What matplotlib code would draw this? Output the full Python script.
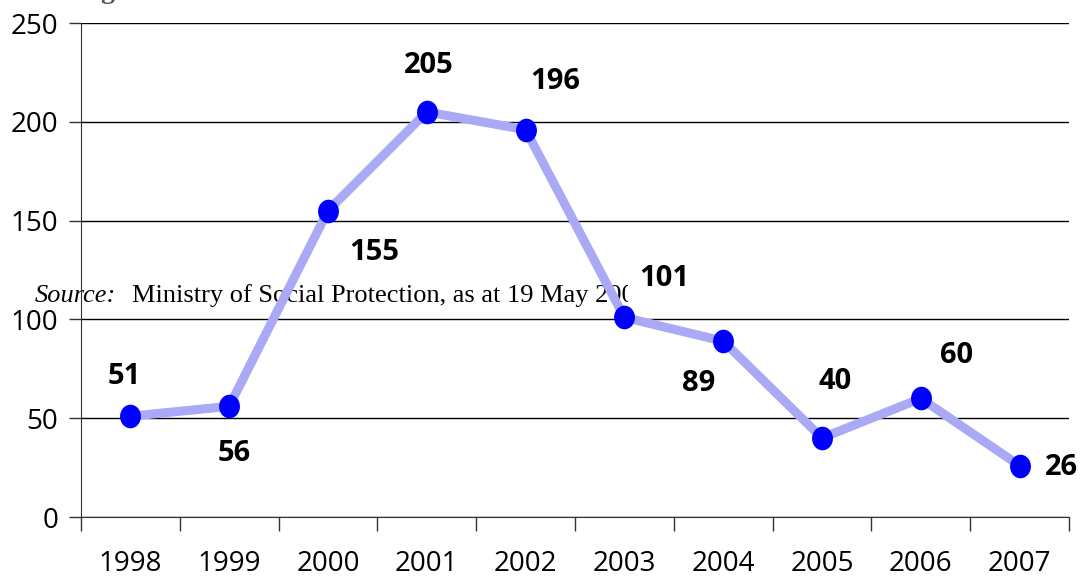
import numpy as np
import matplotlib
matplotlib.use("Agg")
from matplotlib import pyplot as plt
from matplotlib.path import Path
from matplotlib.transforms import Bbox

# data
years = ['1998', '1999', '2000', '2001', '2002', '2003', '2004', '2005', '2006', '2007']
values = [51, 56, 155, 205, 196, 101, 89, 40, 60, 26]
# label offsets in pixels (dx, dy) from each point
label_offsets = [(-6, 40), (5, -47), (46, -42), (2, 46), (30, 48),
                 (40, 39), (-25, -42), (13, 56), (36, 43), (42, -2)]
y_ticks = [0, 50, 100, 150, 200, 250]

# slightly taller-than-wide marker
circ = Path.unit_circle()
ellipse = Path(circ.vertices * np.array([1.0, 1.13]), circ.codes)

fig = plt.figure(figsize=(10.8, 5.78), dpi=100)
ax = fig.add_axes([81 / 1080, 1 - 517 / 578, 988 / 1080, 494 / 578])

x = np.arange(len(years))
ax.plot(x, values, color='#a9a9f6', lw=6.5, solid_joinstyle='round', zorder=3)
ax.plot(x, values, ls='none', marker=ellipse, ms=17, color='#0000ff',
        markeredgewidth=0, zorder=4)

for xi, v, (dx, dy) in zip(x, values, label_offsets):
    ax.annotate(str(v), (xi, v), xytext=(dx, dy), textcoords='offset pixels',
                ha='center', va='center', fontsize=21, fontweight='bold',
                family=['Open Sans', 'DejaVu Sans'], zorder=5)

ax.set_xlim(-0.5, len(years) - 0.5)
ax.set_ylim(0, 250)
ax.set_yticks(y_ticks)
ax.set_xticks(np.arange(len(years) + 1) - 0.5)
ax.set_xticklabels([])
ax.set_xticks(x, minor=True)
ax.set_xticklabels(years, minor=True)
ax.tick_params(axis='x', which='minor', length=0, pad=24)
ax.tick_params(axis='x', which='major', length=10, width=1, color='#333333', direction='out')
ax.tick_params(axis='y', length=9, width=1, color='#333333', pad=7.5)
for lab in ax.get_yticklabels() + ax.get_xticklabels(minor=True):
    lab.set_fontsize(20)
    lab.set_family(['Open Sans', 'DejaVu Sans'])

ax.grid(axis='y', color='black', lw=1)
ax.set_axisbelow(True)
for s in ['top', 'right']:
    ax.spines[s].set_visible(False)
ax.spines['left'].set_color('#333333')
ax.spines['bottom'].set_color('#333333')

# stray source note from the page, cut off on the right; drawn under the line
base_y = 1 - 302 / 578
t1 = ax.text(35 / 1080, base_y, 'Source:', transform=fig.transFigure,
             fontsize=19, fontstyle='italic', family='Liberation Serif',
             va='baseline', zorder=1, clip_on=True)
t2 = ax.text(132 / 1080, base_y, 'Ministry of Social Protection, as at 19 May 2007',
             transform=fig.transFigure, fontsize=19, family='Liberation Serif',
             va='baseline', zorder=1, clip_on=True)
for t in (t1, t2):
    t.set_clip_box(Bbox.from_extents(1, 1, 628, 577))

# cut-off title remnant at the very top
fig.text(100 / 1080, 1 + 2 / 578, 'g', fontsize=20, fontweight='bold', color='#555555',
         family='Liberation Serif', va='baseline')

fig.savefig('out.png', dpi=100)
